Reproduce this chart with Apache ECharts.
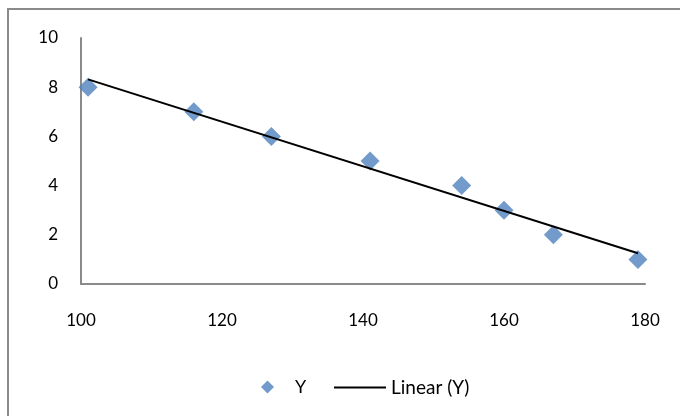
<!DOCTYPE html>
<html>
<head>
<meta charset="utf-8">
<script src="https://cdn.jsdelivr.net/npm/echarts@6/dist/echarts.min.js"></script>
<style>html,body{margin:0;padding:0;background:#fff;}#c{width:680px;height:416px;}</style>
</head>
<body>
<div id="c"></div>
<script>
const xValues = [101, 116, 127, 141, 154, 160, 167, 179];
const yValues = [8, 7, 6, 5, 4, 3, 2, 1];
const xTicks = [100, 120, 140, 160, 180];
const yTicks = [0, 2, 4, 6, 8, 10];
const seriesNames = ['Y', 'Linear (Y)'];

// least-squares trend line
const n = xValues.length;
const mx = xValues.reduce((a, b) => a + b, 0) / n;
const my = yValues.reduce((a, b) => a + b, 0) / n;
let sxy = 0, sxx = 0;
for (let i = 0; i < n; i++) { sxy += (xValues[i] - mx) * (yValues[i] - my); sxx += (xValues[i] - mx) ** 2; }
const slope = sxy / sxx, intercept = my - slope * mx;
const xMinD = Math.min(...xValues), xMaxD = Math.max(...xValues);
const trend = [[xMinD, intercept + slope * xMinD], [xMaxD, intercept + slope * xMaxD]];

const font = 'Lato, "Open Sans", sans-serif';
const chart = echarts.init(document.getElementById('c'), null, {renderer: 'canvas'});
chart.setOption({
  animation: false,
  backgroundColor: '#fff',
  textStyle: {fontFamily: font},
  graphic: [{
    type: 'rect', silent: true, z: -1,
    shape: {x: 8, y: 9, width: 720, height: 500},
    style: {fill: 'none', stroke: '#8a8a8a', lineWidth: 2}
  }],
  grid: {left: 81, right: 35, top: 38, bottom: 132},
  xAxis: {
    type: 'value', min: xTicks[0], max: xTicks[xTicks.length - 1], interval: xTicks[1] - xTicks[0],
    axisLine: {show: true, lineStyle: {color: '#8a8a8a', width: 2}},
    axisTick: {show: false}, splitLine: {show: false},
    axisLabel: {color: '#000', fontSize: 17, fontFamily: font, margin: 28}
  },
  yAxis: {
    type: 'value', min: yTicks[0], max: yTicks[yTicks.length - 1], interval: yTicks[1] - yTicks[0],
    axisLine: {show: true, lineStyle: {color: '#8a8a8a', width: 2}},
    axisTick: {show: false}, splitLine: {show: false},
    axisLabel: {color: '#000', fontSize: 17, fontFamily: font, margin: 23}
  },
  legend: [{
    data: [{name: seriesNames[0], icon: 'diamond'}],
    left: 256, top: 373, itemWidth: 13, itemHeight: 13,
    textStyle: {color: '#000', fontSize: 18, fontFamily: font, padding: [0, 0, 0, 16]}
  }, {
    data: [{name: seriesNames[1], icon: 'path://M0,0 L52,0 L52,2 L0,2 Z'}],
    left: 329, top: 373, itemWidth: 52, itemHeight: 2,
    itemStyle: {color: '#000'},
    textStyle: {color: '#000', fontSize: 19, fontFamily: font, padding: [0, 0, 0, 0]}
  }],
  series: [{
    name: seriesNames[0], type: 'scatter', symbol: 'diamond', symbolSize: 19,
    itemStyle: {color: '#4F81BD'},
    data: xValues.map((x, i) => [x, yValues[i]]), z: 2
  }, {
    name: seriesNames[1], type: 'line', showSymbol: false, symbol: 'none',
    lineStyle: {color: '#000', width: 2}, itemStyle: {color: '#000'},
    data: trend, z: 3
  }]
});
</script>
</body>
</html>
